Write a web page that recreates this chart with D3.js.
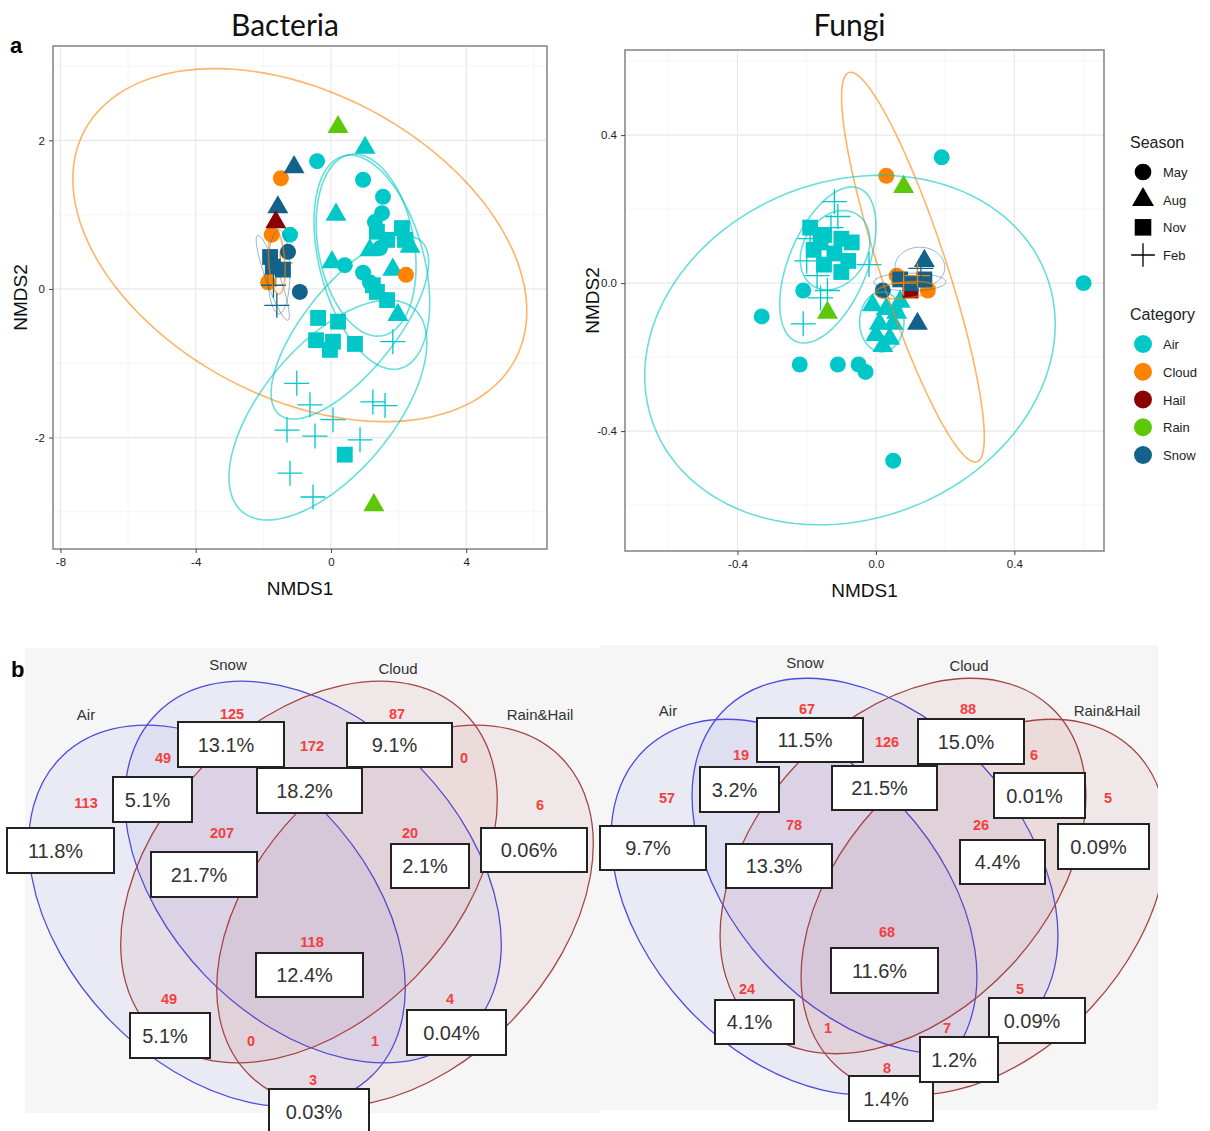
<!DOCTYPE html>
<html>
<head>
<meta charset="utf-8">
<script src="https://cdn.jsdelivr.net/npm/d3@7"></script>
<style>
  body { margin: 0; background: #fff; }
  svg { display: block; font-family: "Liberation Sans", Arial, sans-serif; }
</style>
</head>
<body>
<div id="fig"></div>
<script>
// ---------- panel a : NMDS ----------
var categories = ["Air", "Cloud", "Hail", "Rain", "Snow"];
var catColors  = ["#00c8c8", "#ff8200", "#8b0000", "#5cc80a", "#12628a"];
var seasons    = ["May", "Aug", "Nov", "Feb"];

// [NMDS1, NMDS2, category, season]
var bacteriaPts = [
  [1.01, 1.90, "Air", "Aug"], [-0.41, 1.72, "Air", "May"], [0.95, 1.47, "Air", "May"],
  [1.54, 1.24, "Air", "May"], [1.51, 1.02, "Air", "May"], [1.30, 0.90, "Air", "May"],
  [0.15, 1.00, "Air", "Aug"], [-1.21, 0.73, "Air", "May"],
  [1.36, 0.77, "Air", "Nov"], [1.66, 0.66, "Air", "Nov"], [2.10, 0.82, "Air", "Nov"],
  [2.19, 0.66, "Air", "Nov"], [1.45, 0.55, "Air", "May"], [1.15, 0.52, "Air", "Aug"],
  [2.34, 0.57, "Air", "Aug"], [1.83, 0.26, "Air", "Aug"], [0.03, 0.36, "Air", "Aug"],
  [0.41, 0.32, "Air", "May"], [0.95, 0.22, "Air", "May"], [1.15, 0.09, "Air", "May"],
  [1.36, -0.04, "Air", "Nov"], [1.66, -0.15, "Air", "Nov"], [1.24, 0.05, "Air", "Nov"],
  [1.98, -0.35, "Air", "Aug"],
  [-0.38, -0.39, "Air", "Nov"], [0.21, -0.44, "Air", "Nov"], [-0.44, -0.69, "Air", "Nov"],
  [0.06, -0.71, "Air", "Nov"], [-0.03, -0.82, "Air", "Nov"], [0.71, -0.74, "Air", "Nov"],
  [0.41, -2.23, "Air", "Nov"],
  [-1.01, -1.27, "Air", "Feb"], [-0.62, -1.56, "Air", "Feb"], [0.06, -1.76, "Air", "Feb"],
  [-1.30, -1.90, "Air", "Feb"], [-0.47, -1.98, "Air", "Feb"], [0.86, -2.03, "Air", "Feb"],
  [1.24, -1.52, "Air", "Feb"], [1.60, -1.57, "Air", "Feb"], [-1.21, -2.48, "Air", "Feb"],
  [-0.53, -2.80, "Air", "Feb"], [1.83, -0.71, "Air", "Feb"],
  [-1.48, 1.49, "Cloud", "May"], [-1.75, 0.73, "Cloud", "May"], [-1.86, 0.09, "Cloud", "May"],
  [2.22, 0.19, "Cloud", "May"], [-1.63, 0.19, "Cloud", "Feb"], [-1.50, 0.35, "Cloud", "Feb"],
  [-1.09, 1.64, "Snow", "Aug"], [-1.57, 1.10, "Snow", "Aug"], [-1.27, 0.50, "Snow", "May"],
  [-1.80, 0.43, "Snow", "Nov"], [-1.42, 0.26, "Snow", "Nov"], [-1.72, 0.30, "Snow", "Nov"],
  [-0.92, -0.04, "Snow", "May"], [-1.60, -0.22, "Snow", "Feb"], [-1.70, 0.05, "Snow", "Feb"],
  [-1.63, 0.90, "Hail", "Aug"],
  [0.21, 2.18, "Rain", "Aug"], [1.27, -2.91, "Rain", "Aug"]
];

var fungiPts = [
  [0.19, 0.34, "Air", "May"], [0.60, 0.00, "Air", "May"], [-0.33, -0.09, "Air", "May"],
  [-0.21, -0.02, "Air", "May"], [-0.22, -0.22, "Air", "May"], [-0.11, -0.22, "Air", "May"],
  [-0.05, -0.22, "Air", "May"], [-0.03, -0.24, "Air", "May"], [0.05, -0.48, "Air", "May"],
  [-0.12, 0.22, "Air", "Feb"], [-0.11, 0.18, "Air", "Feb"], [-0.20, 0.06, "Air", "Feb"],
  [-0.17, 0.02, "Air", "Feb"], [-0.21, -0.11, "Air", "Feb"], [-0.16, -0.04, "Air", "Feb"],
  [-0.02, 0.05, "Air", "Feb"], [-0.19, 0.12, "Air", "Feb"], [-0.14, -0.02, "Air", "Feb"],
  [-0.13, 0.15, "Air", "Feb"],
  [-0.19, 0.15, "Air", "Nov"], [-0.15, 0.13, "Air", "Nov"], [-0.10, 0.12, "Air", "Nov"],
  [-0.07, 0.11, "Air", "Nov"], [-0.18, 0.09, "Air", "Nov"], [-0.12, 0.08, "Air", "Nov"],
  [-0.08, 0.06, "Air", "Nov"], [-0.15, 0.05, "Air", "Nov"], [-0.10, 0.03, "Air", "Nov"],
  [-0.16, 0.11, "Air", "Nov"],
  [-0.01, -0.06, "Air", "Aug"], [0.03, -0.07, "Air", "Aug"], [0.06, -0.08, "Air", "Aug"],
  [0.01, -0.11, "Air", "Aug"], [0.05, -0.11, "Air", "Aug"], [0.00, -0.14, "Air", "Aug"],
  [0.04, -0.15, "Air", "Aug"], [0.02, -0.17, "Air", "Aug"], [0.07, -0.05, "Air", "Aug"],
  [0.03, 0.29, "Cloud", "May"], [0.06, 0.02, "Cloud", "May"], [0.15, -0.02, "Cloud", "May"],
  [0.10, -0.02, "Hail", "Nov"],
  [0.02, -0.02, "Snow", "May"], [0.14, 0.06, "Snow", "Aug"], [0.12, -0.11, "Snow", "Aug"],
  [0.07, 0.01, "Snow", "Nov"], [0.10, 0.00, "Snow", "Nov"], [0.14, 0.01, "Snow", "Nov"],
  [0.08, 0.00, "Cloud", "Feb"], [0.12, 0.02, "Cloud", "Feb"], [0.13, 0.04, "Snow", "Feb"],
  [0.08, 0.26, "Rain", "Aug"], [-0.14, -0.08, "Rain", "Aug"]
];

// 95% ellipses: [category, centre x, centre y, axis1 x, axis1 y, axis2 x, axis2 y]
var bacteriaEll = [
  ["Cloud", -0.92, 0.59, 6.37, -1.54, -2.12, -1.81],
  ["Air", -0.09, -1.63, 2.53, 1.37, 1.47, -0.56],
  ["Air", 0.56, -0.52, 2.09, 1.17, 1.03, -0.38],
  ["Air", 1.04, 0.59, -0.47, 1.22, 1.40, 0.11],
  ["Air", 1.21, 0.36, -0.84, 1.43, 1.49, 0.18],
  ["Snow", -1.72, 0.15, 0.45, -0.57, 0.195, 0.032],
  ["Snow", -1.54, 0.23, 0, -0.565, 0.33, 0],
  ["Cloud", -1.60, 0.36, 0.06, -0.43, 0.24, 0]
];
var fungiEll = [
  ["Air", -0.075, -0.181, 0.566, 0.206, 0.177, -0.425],
  ["Cloud", 0.107, 0.043, 0.185, -0.526, 0.091, 0.028],
  ["Air", -0.139, 0.049, 0.091, 0.207, 0.105, -0.040],
  ["Air", -0.118, 0.089, 0.061, 0.098, 0.080, -0.043],
  ["Air", 0.017, -0.105, 0, 0.081, 0.064, 0],
  ["Snow", 0.127, 0.043, 0.072, 0, 0, -0.054],
  ["Snow", 0.098, 0.003, 0.104, 0, 0, -0.024],
  ["Cloud", 0.084, -0.019, 0.087, 0.008, 0, -0.022]
];

var bacXTicks = [-8, -4, 0, 4], bacYTicks = [-2, 0, 2];
var bacXMinor = [-6, -2, 2, 6], bacYMinor = [-3, -1, 1, 3];
var funXTicks = [-0.4, 0, 0.4], funYTicks = [-0.4, 0, 0.4];
var funXMinor = [-0.6, -0.2, 0.2, 0.6], funYMinor = [-0.6, -0.2, 0.2, 0.6];

// ---------- panel b : Venn ----------
var vennSets = ["Air", "Snow", "Cloud", "Rain&Hail"];
var vennRegions = ["A", "S", "C", "R", "AS", "SC", "CR", "ASC", "SCR", "ASCR", "AC", "SR", "ACR", "AR", "ASR"];
var bacteriaCounts = [113, 125, 87, 6, 49, 172, 0, 207, 20, 118, 49, 4, 0, 3, 1];
var bacteriaPct = ["11.8%", "13.1%", "9.1%", "0.06%", "5.1%", "18.2%", "", "21.7%", "2.1%", "12.4%", "5.1%", "0.04%", "", "0.03%", ""];
var fungiCounts = [57, 67, 88, 5, 19, 126, 6, 78, 26, 68, 24, 5, 1, 8, 7];
var fungiPct = ["9.7%", "11.5%", "15.0%", "0.09%", "3.2%", "21.5%", "0.01%", "13.3%", "4.4%", "11.6%", "4.1%", "0.09%", "", "1.4%", "1.2%"];

// ---------- drawing ----------
var W = 1210, H = 1131;
var svg = d3.select("#fig").append("svg").attr("width", W).attr("height", H);
svg.append("rect").attr("width", W).attr("height", H).attr("fill", "#fff");
var color = d3.scaleOrdinal().domain(categories).range(catColors);

function symbolPath(season, k) {
  k = k || 1;
  if (season === "May") return d3.symbol(d3.symbolCircle, 200 * k)();
  if (season === "Aug") return d3.symbol(d3.symbolTriangle, 190 * k)();
  if (season === "Nov") return d3.symbol(d3.symbolSquare, 250 * k)();
  var r = 12.5 * Math.sqrt(k);
  return "M" + (-r) + ",0H" + r + "M0," + (-r) + "V" + r;
}

function drawMarker(g, d, x, y) {
  var p = g.append("path").attr("d", symbolPath(d[3]))
    .attr("transform", "translate(" + x(d[0]) + "," + y(d[1]) + ")");
  if (d[3] === "Feb") p.attr("fill", "none").attr("stroke", color(d[2])).attr("stroke-width", 1.3);
  else p.attr("fill", color(d[2]));
}

function nmdsPanel(opt) {
  var x = d3.scaleLinear().domain(opt.xd).range([opt.l, opt.r]);
  var y = d3.scaleLinear().domain(opt.yd).range([opt.b, opt.t]);
  var g = svg.append("g");
  var id = "clip" + opt.name;
  svg.append("clipPath").attr("id", id).append("rect")
    .attr("x", opt.l).attr("y", opt.t).attr("width", opt.r - opt.l).attr("height", opt.b - opt.t);

  // grid
  g.selectAll(".vmin").data(opt.xMinor).enter().append("line")
    .attr("x1", d => x(d)).attr("x2", d => x(d)).attr("y1", opt.t).attr("y2", opt.b)
    .attr("stroke", "#f3f3f3").attr("stroke-width", 0.8);
  g.selectAll(".hmin").data(opt.yMinor).enter().append("line")
    .attr("y1", d => y(d)).attr("y2", d => y(d)).attr("x1", opt.l).attr("x2", opt.r)
    .attr("stroke", "#f3f3f3").attr("stroke-width", 0.8);
  g.selectAll(".vmaj").data(opt.xTicks).enter().append("line")
    .attr("x1", d => x(d)).attr("x2", d => x(d)).attr("y1", opt.t).attr("y2", opt.b)
    .attr("stroke", "#e8e8e8").attr("stroke-width", 1.2);
  g.selectAll(".hmaj").data(opt.yTicks).enter().append("line")
    .attr("y1", d => y(d)).attr("y2", d => y(d)).attr("x1", opt.l).attr("x2", opt.r)
    .attr("stroke", "#e8e8e8").attr("stroke-width", 1.2);

  // points
  var pg = g.append("g").attr("clip-path", "url(#" + id + ")");
  opt.pts.forEach(function(d) { drawMarker(pg, d, x, y); });

  // ellipses
  var line = d3.line().x(d => x(d[0])).y(d => y(d[1])).curve(d3.curveLinearClosed);
  var eg = g.append("g").attr("clip-path", "url(#" + id + ")");
  opt.ell.forEach(function(e) {
    var pts = d3.range(0, 120).map(function(i) {
      var t = i / 120 * 2 * Math.PI;
      return [e[1] + e[3] * Math.cos(t) + e[5] * Math.sin(t),
              e[2] + e[4] * Math.cos(t) + e[6] * Math.sin(t)];
    });
    eg.append("path").attr("d", line(pts)).attr("fill", "none")
      .attr("stroke", color(e[0])).attr("stroke-opacity", e[0] === "Snow" ? 0.45 : 0.6)
      .attr("stroke-width", e[0] === "Snow" ? 1 : 1.6);
  });

  // frame
  g.append("rect").attr("x", opt.l).attr("y", opt.t).attr("width", opt.r - opt.l).attr("height", opt.b - opt.t)
    .attr("fill", "none").attr("stroke", "#8a8a8a").attr("stroke-width", 1.6);

  // axes
  var ax = g.append("g").attr("transform", "translate(0," + opt.b + ")")
    .call(d3.axisBottom(x).tickValues(opt.xTicks).tickSize(4).tickPadding(5).tickFormat(opt.fmt));
  var ay = g.append("g").attr("transform", "translate(" + opt.l + ",0)")
    .call(d3.axisLeft(y).tickValues(opt.yTicks).tickSize(4).tickPadding(4).tickFormat(opt.fmt));
  [ax, ay].forEach(function(a) {
    a.select(".domain").remove();
    a.selectAll("line").attr("stroke", "#444");
    a.selectAll("text").attr("fill", "#222").style("font-size", "11.5px");
  });

  // titles
  svg.append("text").attr("x", (opt.l + opt.r) / 2 - 15).attr("y", 36).attr("text-anchor", "middle")
    .style("font-family", "Lato, 'Open Sans', sans-serif").style("font-size", "30px").attr("fill", "#111")
    .text(opt.name);
  svg.append("text").attr("x", (opt.l + opt.r) / 2).attr("y", opt.b + 46).attr("text-anchor", "middle")
    .style("font-size", "19px").attr("fill", "#111").text("NMDS1");
  svg.append("text").attr("transform", "translate(" + (opt.l - 26) + "," + ((opt.t + opt.b) / 2) + ") rotate(-90)")
    .attr("text-anchor", "middle").style("font-size", "19px").attr("fill", "#111").text("NMDS2");
}

nmdsPanel({ name: "Bacteria", l: 53, r: 547, t: 46, b: 549, xd: [-8.22, 6.39], yd: [-3.5, 3.27],
  xTicks: bacXTicks, yTicks: bacYTicks, xMinor: bacXMinor, yMinor: bacYMinor,
  pts: bacteriaPts, ell: bacteriaEll, fmt: d => String(d) });
nmdsPanel({ name: "Fungi", l: 625, r: 1104, t: 50, b: 551, xd: [-0.725, 0.659], yd: [-0.724, 0.63],
  xTicks: funXTicks, yTicks: funYTicks, xMinor: funXMinor, yMinor: funYMinor,
  pts: fungiPts, ell: fungiEll, fmt: d => d.toFixed(1) });

// panel letters
svg.append("text").attr("x", 10).attr("y", 53).style("font-size", "22px").style("font-weight", "bold").text("a");
svg.append("text").attr("x", 11).attr("y", 677).style("font-size", "22px").style("font-weight", "bold").text("b");

// legend
var lg = svg.append("g");
lg.append("text").attr("x", 1130).attr("y", 148).style("font-size", "16px").attr("fill", "#222").text("Season");
var ly = d3.scalePoint().domain(seasons).range([172, 255]);
seasons.forEach(function(s) {
  var p = lg.append("path").attr("d", symbolPath(s, s === "Feb" ? 0.9 : 1.1))
    .attr("transform", "translate(1143," + ly(s) + ")");
  if (s === "Feb") p.attr("fill", "none").attr("stroke", "#000").attr("stroke-width", 1.3);
  else p.attr("fill", "#000");
  lg.append("text").attr("x", 1163).attr("y", ly(s) + 5).style("font-size", "13px").attr("fill", "#222").text(s);
});
lg.append("text").attr("x", 1130).attr("y", 320).style("font-size", "16px").attr("fill", "#222").text("Category");
var cy = d3.scalePoint().domain(categories).range([344, 455]);
categories.forEach(function(c) {
  lg.append("circle").attr("cx", 1143).attr("cy", cy(c)).attr("r", 9).attr("fill", color(c));
  lg.append("text").attr("x", 1163).attr("y", cy(c) + 5).style("font-size", "13px").attr("fill", "#222").text(c);
});

// ---------- Venn diagrams ----------
function venn(opt, counts, pcts) {
  var g = svg.append("g");
  var id = "vclip" + opt.id;
  svg.append("clipPath").attr("id", id).append("rect")
    .attr("x", opt.bg[0]).attr("y", opt.bg[1]).attr("width", opt.bg[2]).attr("height", opt.bg[3]);
  g.append("rect").attr("x", opt.bg[0]).attr("y", opt.bg[1]).attr("width", opt.bg[2]).attr("height", opt.bg[3])
    .attr("fill", "#f6f6f6");
  var eg = g.append("g").attr("clip-path", "url(#" + id + ")");
  vennSets.forEach(function(s, i) {
    var c = opt.centres[i], blue = i < 2;
    eg.append("ellipse").attr("cx", c[0]).attr("cy", c[1]).attr("rx", opt.a).attr("ry", opt.b)
      .attr("transform", "rotate(" + (blue ? opt.rot : -opt.rot) + "," + c[0] + "," + c[1] + ")")
      .attr("fill", blue ? "#5a5ae6" : "#b04848").attr("fill-opacity", 0.075)
      .attr("stroke", blue ? "#4b4be0" : "#a54444").attr("stroke-width", 1.3);
    g.append("text").attr("x", opt.setLab[i][0]).attr("y", opt.setLab[i][1]).attr("text-anchor", "middle")
      .attr("dy", "0.35em").style("font-size", "15px").attr("fill", "#333").text(s);
  });
  vennRegions.forEach(function(r, i) {
    var p = opt.numPos[i];
    g.append("text").attr("x", p[0]).attr("y", p[1]).attr("dy", "0.36em").attr("text-anchor", "middle")
      .style("font-size", "14.5px").style("font-weight", "bold").attr("fill", "#f24040").text(counts[i]);
  });
  vennRegions.forEach(function(r, i) {
    var bx = opt.boxes[i];
    if (!pcts[i] || !bx) return;
    g.append("rect").attr("x", bx[0]).attr("y", bx[1]).attr("width", bx[2]).attr("height", bx[3])
      .attr("fill", "#fff").attr("stroke", "#222").attr("stroke-width", 2);
    g.append("text").attr("x", bx[0] + bx[2] / 2 - 5).attr("y", bx[1] + bx[3] / 2).attr("dy", "0.36em")
      .attr("text-anchor", "middle").style("font-size", "20px").attr("fill", "#333").text(pcts[i]);
  });
}

venn({
  id: "L", bg: [25, 648, 575, 465], a: 222.5, b: 149.5, rot: 46,
  centres: [[217, 916], [313, 872], [309, 872], [405, 916]],
  setLab: [[86, 715], [228, 665], [398, 669], [540, 715]],
  numPos: [[86, 803], [232, 714], [397, 714], [540, 805], [163, 758], [312, 746], [464, 758],
           [222, 833], [410, 833], [312, 942], [169, 999], [450, 999], [251, 1041], [313, 1080], [375, 1041]],
  boxes: [[7, 828, 107, 45], [178, 722, 106, 45], [347, 723, 105, 44], [481, 828, 106, 44],
          [113, 777, 79, 45], [257, 768, 105, 45], null, [151, 852, 106, 45], [391, 844, 78, 44],
          [256, 953, 107, 44], [130, 1013, 80, 45], [407, 1010, 99, 45], null, [269, 1089, 100, 45], null]
}, bacteriaCounts, bacteriaPct);

venn({
  id: "R", bg: [600, 645, 558, 465], a: 217, b: 147, rot: 47,
  centres: [[794, 907], [875, 866], [903, 866], [984, 907]],
  setLab: [[668, 711], [805, 663], [969, 666], [1107, 711]],
  numPos: [[667, 798], [807, 709], [968, 709], [1108, 798], [741, 755], [887, 742], [1034, 755],
           [794, 825], [981, 825], [887, 932], [747, 989], [1020, 989], [828, 1028], [887, 1068], [947, 1028]],
  boxes: [[600, 826, 106, 44], [757, 718, 106, 44], [918, 719, 106, 45], [1058, 824, 91, 45],
          [700, 767, 79, 45], [832, 766, 105, 44], [994, 773, 91, 45], [726, 844, 106, 44], [960, 840, 85, 44],
          [831, 948, 107, 45], [715, 1000, 79, 44], [989, 998, 96, 45], null, [849, 1076, 84, 45], [920, 1037, 78, 45]]
}, fungiCounts, fungiPct);
</script>
</body>
</html>
